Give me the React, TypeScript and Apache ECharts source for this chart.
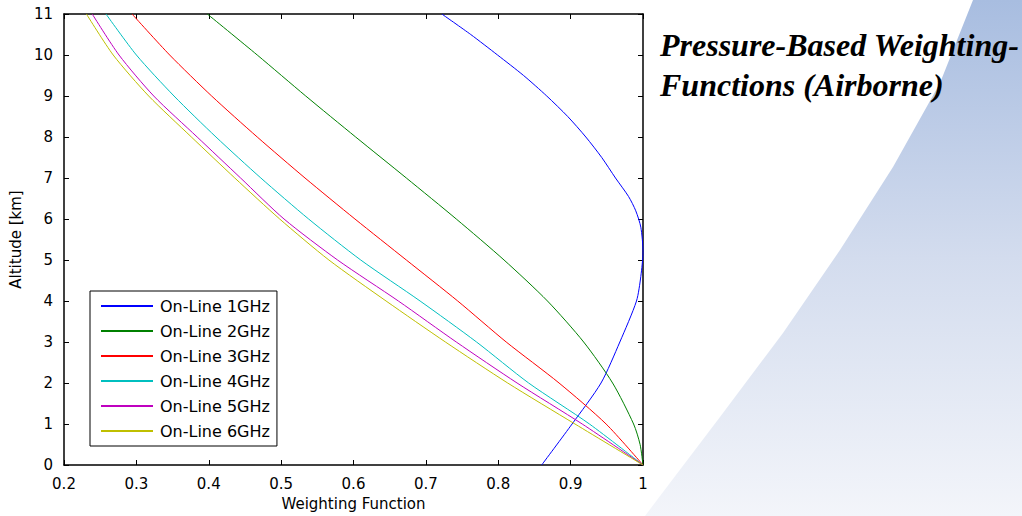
import React, { useEffect, useRef } from "react";
import * as echarts from "echarts";

const seriesNames = ["On-Line 1GHz", "On-Line 2GHz", "On-Line 3GHz", "On-Line 4GHz", "On-Line 5GHz", "On-Line 6GHz"];
const seriesColors = ["#0000ff", "#008000", "#ff0000", "#00bfbf", "#bf00bf", "#bfbf00"];

// [weighting, altitude km]
const wf1GHz: number[][] = [
  [0.86, 0], [0.902, 1], [0.942, 2], [0.968, 3], [0.991, 4], [0.997, 4.6], [1.0, 5.2], [0.997, 5.8],
  [0.99, 6.2], [0.98, 6.55], [0.962, 7], [0.943, 7.5], [0.921, 8], [0.896, 8.5], [0.867, 9],
  [0.835, 9.5], [0.799, 10], [0.762, 10.5], [0.722, 11],
];
const wf2GHz: number[][] = [
  [1.0, 0], [0.996, 0.5], [0.987, 1], [0.958, 2], [0.918, 3], [0.868, 4], [0.808, 5], [0.742, 6],
  [0.673, 7], [0.603, 8], [0.534, 9], [0.467, 10], [0.398, 11],
];
const wf3GHz: number[][] = [
  [1.0, 0], [0.949, 1], [0.884, 2], [0.811, 3], [0.744, 4], [0.673, 5], [0.602, 6], [0.533, 7],
  [0.467, 8], [0.404, 9], [0.346, 10], [0.294, 11],
];
const wf4GHz: number[][] = [
  [1.0, 0], [0.926, 1], [0.842, 2], [0.77, 3], [0.692, 4], [0.61, 5], [0.538, 6], [0.472, 7],
  [0.41, 8], [0.352, 9], [0.3, 10], [0.258, 11],
];
const wf5GHz: number[][] = [
  [1.0, 0], [0.916, 1], [0.826, 2], [0.742, 3], [0.662, 4], [0.578, 5], [0.504, 6], [0.444, 7],
  [0.384, 8], [0.324, 9], [0.276, 10], [0.239, 11],
];
const wf6GHz: number[][] = [
  [1.0, 0], [0.906, 1], [0.813, 2], [0.727, 3], [0.645, 4], [0.566, 5], [0.498, 6], [0.436, 7],
  [0.376, 8], [0.317, 9], [0.268, 10], [0.231, 11],
];
const allSeries = [wf1GHz, wf2GHz, wf3GHz, wf4GHz, wf5GHz, wf6GHz];

const titleLines = ["Pressure-Based Weighting-", "Functions (Airborne)"];
const xAxisName = "Weighting Function";
const yAxisName = "Altitude [km]";

export default function App() {
  const ref = useRef<HTMLDivElement>(null);
  useEffect(() => {
    if (!ref.current) return;
    const chart = echarts.init(ref.current, null, { renderer: "svg" });
    const font = "DejaVu Sans";
    chart.setOption({
      animation: false,
      backgroundColor: "#ffffff",
      grid: { left: 64, right: 379, top: 14, bottom: 47, show: false },
      graphic: [
        {
          type: "polygon",
          z: -10,
          silent: true,
          shape: {
            points: [
              [973, 0], [1022, 0], [1022, 516], [645, 516], [657, 500], [720, 417], [783, 333],
              [840, 250], [893, 167], [940, 83], [973, 0],
            ],
          },
          style: {
            fill: {
              type: "linear", x: 0, y: 0, x2: 0, y2: 1,
              colorStops: [
                { offset: 0, color: "#a8bde0" },
                { offset: 0.5, color: "#d3dcee" },
                { offset: 1, color: "#f3f5fa" },
              ],
            },
          },
        },
        ...titleLines.map((t, i) => ({
          type: "text",
          z: 10,
          x: 660,
          y: 45 + i * 40,
          style: {
            text: t,
            fontFamily: "Liberation Serif",
            fontWeight: "bold",
            fontStyle: "italic",
            fontSize: 32,
            fill: "#000",
            verticalAlign: "middle",
          },
        })),
      ],
      legend: {
        orient: "vertical",
        left: 90,
        top: 291,
        backgroundColor: "#ffffff",
        borderColor: "#000",
        borderWidth: 1,
        padding: [7, 7, 7, 11],
        icon: "rect",
        itemWidth: 52,
        itemHeight: 2,
        itemGap: 9,
        textStyle: { fontFamily: font, fontSize: 16, lineHeight: 16, color: "#000", padding: [0, 0, 0, 2] },
        data: seriesNames,
      },
      xAxis: [
        {
          type: "value",
          min: 0.2,
          max: 1,
          interval: 0.1,
          name: xAxisName,
          nameLocation: "middle",
          nameGap: 31,
          nameTextStyle: { fontFamily: font, fontSize: 15, color: "#000" },
          axisLine: { show: true, onZero: false, lineStyle: { color: "#000", width: 1.5 } },
          axisTick: { show: true, inside: true, length: 5, lineStyle: { color: "#000" } },
          axisLabel: { fontFamily: font, fontSize: 15, color: "#000", margin: 11 },
          splitLine: { show: false },
        },
        {
          type: "value",
          position: "top",
          min: 0.2,
          max: 1,
          interval: 0.1,
          axisLine: { show: true, onZero: false, lineStyle: { color: "#000", width: 1.5 } },
          axisTick: { show: true, inside: true, length: 5, lineStyle: { color: "#000" } },
          axisLabel: { show: false },
          splitLine: { show: false },
        },
      ],
      yAxis: [
        {
          type: "value",
          min: 0,
          max: 11,
          interval: 1,
          name: yAxisName,
          nameLocation: "middle",
          nameGap: 33,
          nameTextStyle: { fontFamily: font, fontSize: 15, color: "#000" },
          axisLine: { show: true, onZero: false, lineStyle: { color: "#000", width: 1.5 } },
          axisTick: { show: true, inside: true, length: 5, lineStyle: { color: "#000" } },
          axisLabel: { fontFamily: font, fontSize: 15, color: "#000", margin: 11 },
          splitLine: { show: false },
        },
        {
          type: "value",
          position: "right",
          min: 0,
          max: 11,
          interval: 1,
          axisLine: { show: true, onZero: false, lineStyle: { color: "#000", width: 1.5 } },
          axisTick: { show: true, inside: true, length: 5, lineStyle: { color: "#000" } },
          axisLabel: { show: false },
          splitLine: { show: false },
        },
      ],
      series: allSeries.map((d, i) => ({
        name: seriesNames[i],
        type: "line",
        data: d,
        symbol: "none",
        smooth: 0.25,
        color: seriesColors[i],
        lineStyle: { width: 1, color: seriesColors[i] },
        clip: true,
        z: 2,
      })),
    });
    return () => chart.dispose();
  }, []);
  return (
    <div
      ref={ref}
      style={{ position: "fixed", left: 0, top: 0, width: 1022, height: 516 }}
    />
  );
}
